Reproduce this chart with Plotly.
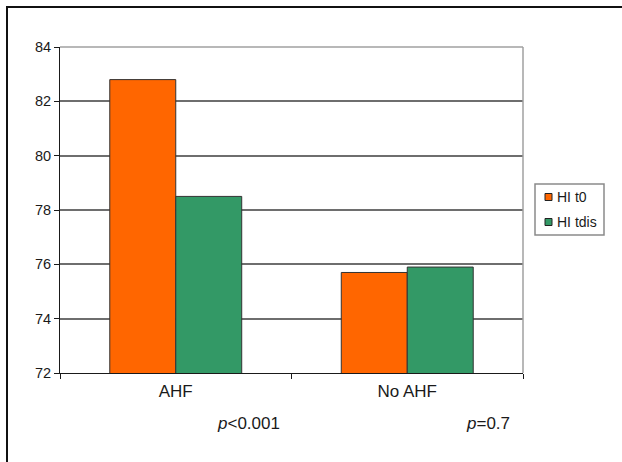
import plotly.graph_objects as go

# Group labels and mean values for the two measurement times
groups = ["AHF", "No AHF"]
hit0 = [82.8, 75.7]
hitdis = [78.5, 75.9]
series_names = ["HI t0", "HI tdis"]
p_labels = ["<i>p</i><0.001", "<i>p</i>=0.7"]
y_ticks = [72, 74, 76, 78, 80, 82, 84]

ORANGE = "#FF6600"
GREEN = "#339966"
colors = [ORANGE, GREEN]
FONT = "Liberation Sans, Arial, sans-serif"

fig = go.Figure()
for name, vals, col in zip(series_names, [hit0, hitdis], colors):
    fig.add_trace(go.Bar(name=name, x=groups, y=vals, showlegend=False,
                         marker=dict(color=col, line=dict(color="#333333", width=1))))

W, H = 622, 462
L, R, T, B = 60, 99, 47, 89
pw, ph = W - L - R, H - T - B


def px_x(x):
    return (x - L) / pw


def px_y(y):
    return (H - B - y) / ph


fig.update_layout(
    width=W, height=H,
    margin=dict(l=L, r=R, t=T, b=B, autoexpand=False),
    paper_bgcolor="white", plot_bgcolor="white",
    barmode="group", bargap=0.43, bargroupgap=0,
    font=dict(family=FONT, size=14, color="#1a1a1a"),
    showlegend=False,
    xaxis=dict(showline=True, linecolor="#1a1a1a", linewidth=1,
               ticks="outside", tickson="boundaries", ticklen=5, tickcolor="#1a1a1a",
               tickfont=dict(size=17), showgrid=False, ticklabelstandoff=3),
    yaxis=dict(range=[72, 84], tickvals=y_ticks, showline=True, linecolor="#1a1a1a",
               linewidth=1, ticks="outside", ticklen=5, tickcolor="#1a1a1a",
               showgrid=True, gridcolor="#6e6e6e", gridwidth=1.5,
               tickfont=dict(size=14.5), zeroline=False),
)

# Plot-area border on top and right
fig.add_shape(type="line", xref="paper", yref="paper", x0=0, x1=1, y0=1, y1=1,
              line=dict(color="#a0a0a0", width=1.5))
fig.add_shape(type="line", xref="paper", yref="paper", x0=1, x1=1, y0=0, y1=1,
              line=dict(color="#a0a0a0", width=1.5))

# Outer chart frame
fig.add_shape(type="rect", xref="paper", yref="paper",
              x0=px_x(7), x1=px_x(640), y0=px_y(480), y1=px_y(7),
              line=dict(color="#111111", width=2), layer="below")

# Legend box with colour swatches
fig.add_shape(type="rect", xref="paper", yref="paper",
              x0=px_x(535), x1=px_x(604), y0=px_y(235), y1=px_y(184),
              line=dict(color="#8a8a8a", width=1.5), fillcolor="white")
for k, (name, col) in enumerate(zip(series_names, colors)):
    cy = 197 + k * 25
    fig.add_shape(type="rect", xref="paper", yref="paper",
                  x0=px_x(545), x1=px_x(552), y0=px_y(cy + 3.5), y1=px_y(cy - 3.5),
                  line=dict(color="#222222", width=1), fillcolor=col)
    fig.add_annotation(x=px_x(555), y=px_y(cy), xref="paper", yref="paper",
                       text=name, showarrow=False, xanchor="left", yanchor="middle",
                       font=dict(size=14))

# p-values under each group
for i, txt in enumerate(p_labels):
    fig.add_annotation(x=i + (0.316 if i == 0 else 0.35), xref="x",
                       y=px_y(423), yref="paper", text=txt, showarrow=False,
                       font=dict(size=17), xanchor="center", yanchor="middle")

fig.write_html("out.html")
